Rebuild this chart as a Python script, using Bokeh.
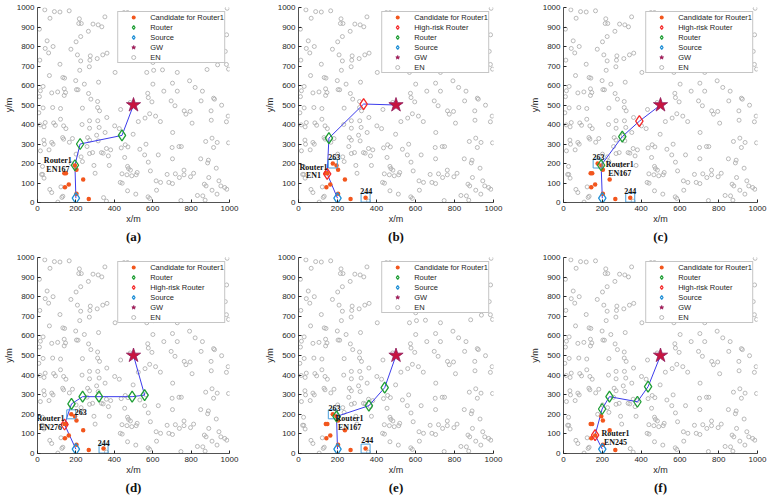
from bokeh.plotting import figure
from bokeh.layouts import row, column
from bokeh.models import Range1d, Legend, LegendItem, Title, FixedTicker
from bokeh.core.properties import value
from bokeh.embed import file_html
from bokeh.resources import INLINE

# ---------------- data ----------------
EN_PTS = [
    (38, 988), (88, 979), (117, 977), (165, 983), (65, 945), (218, 942), (351, 952), (450, 974), (469, 974), (988, 996),
    (228, 918), (215, 918), (289, 915), (316, 911), (335, 901), (10, 889), (265, 878), (225, 851), (201, 824), (50, 829),
    (81, 800), (40, 790), (58, 767), (174, 786), (208, 757), (275, 752), (340, 757), (362, 766), (12, 730), (117, 709),
    (273, 730), (225, 726), (311, 738), (220, 678), (270, 696), (404, 667), (601, 718), (569, 667), (605, 678), (651, 680),
    (728, 667), (883, 682), (984, 708), (995, 684), (938, 706), (520, 830), (700, 900), (850, 760), (620, 940), (780, 880),
    (940, 800), (560, 780), (880, 920), (985, 860), (978, 775),
    (62, 651), (132, 641), (141, 638), (29, 595), (15, 573), (105, 567), (74, 562), (139, 583), (146, 564), (203, 579),
    (211, 578), (244, 607), (318, 617), (278, 530), (199, 625), (313, 518), (266, 559), (139, 549), (10, 543), (29, 485),
    (120, 482), (79, 487), (234, 484), (313, 487), (323, 470), (433, 477), (483, 513), (574, 560), (577, 538), (596, 516),
    (658, 571), (728, 571), (792, 624), (821, 590), (859, 571), (696, 521), (716, 496), (764, 470), (795, 467), (773, 453),
    (805, 407), (904, 470), (917, 535), (922, 530), (959, 499), (993, 443), (984, 414), (905, 422), (584, 455), (615, 443),
    (7, 460), (14, 398), (40, 410), (34, 388), (120, 427), (136, 393), (148, 379), (84, 408), (93, 396), (271, 419),
    (271, 381), (314, 419), (321, 385), (361, 436), (402, 393), (352, 359), (308, 345), (261, 333), (359, 277), (381, 270),
    (369, 239), (374, 190), (333, 256), (342, 253), (258, 287), (271, 320), (316, 316), (33, 320), (36, 299), (74, 308),
    (81, 299), (131, 333), (136, 325), (182, 328), (201, 248), (227, 234), (234, 210), (26, 185), (27, 144), (21, 144),
    (34, 125), (64, 67), (74, 51), (122, 80), (132, 32), (127, 26), (106, 2), (359, 7),
    (426, 379), (436, 280), (457, 296), (498, 350), (471, 285), (454, 231), (469, 185), (474, 174), (484, 166), (466, 142),
    (519, 154), (514, 142), (491, 137), (440, 147), (431, 103), (441, 99), (469, 60), (512, 43), (576, 29), (584, 21),
    (533, 273), (565, 299), (558, 244), (577, 207), (588, 162), (629, 244), (618, 111), (641, 103), (620, 63), (675, 144),
    (684, 103), (718, 147), (703, 97), (739, 128), (763, 142), (797, 132), (763, 166), (737, 287), (749, 287), (701, 282),
    (703, 224), (704, 359), (876, 313), (909, 330), (917, 282), (936, 308), (995, 306), (850, 224), (886, 203), (890, 217),
    (931, 176), (869, 94), (878, 85), (892, 128), (909, 63), (945, 111), (955, 85), (975, 77), (986, 68), (935, 43),
    (833, 36), (861, 34), (873, 12), (747, 10), (813, 150), (852, 521), (601, 607), (703, 612), (271, 251), (287, 256),
    (294, 190), (166, 309), (560, 433), (525, 415), (640, 415), (232, 400), (60, 270), (15, 265), (300, 150),
]
EN_X = [p[0] for p in EN_PTS]
EN_Y = [p[1] for p in EN_PTS]

CAND_X = [140, 148, 143, 163, 203, 195, 238, 203, 267]
CAND_Y = [150, 150, 78, 92, 168, 190, 118, 45, 18]

MARK_IDS = ["263", "244"]
MARK_X = [176, 344]
MARK_Y = [200, 25]

SOURCE_X = [200]
SOURCE_Y = [22]
GW_X = [500]
GW_Y = [500]

PANELS = {
    "a": dict(rx=[195, 222, 440], ry=[191, 300, 344], risk=[0, 0, 0], en="EN167",
              lab=(106, 217, 171), marks=False, mlab=None,
              legend=["cand", "router", "source", "gw", "en"]),
    "b": dict(rx=[147, 156, 334], ry=[147, 330, 505], risk=[1, 0, 1], en="EN1",
              lab=(77, 182, 136), marks=True, mlab=[(183, 233), (348, 60)],
              legend=["cand", "risk", "router", "source", "gw", "en"]),
    "c": dict(rx=[194, 303, 391], ry=[191, 338, 417], risk=[0, 0, 1], en="EN167",
              lab=(290, 194, 148), marks=True, mlab=[(180, 233), (344, 60)],
              legend=["cand", "risk", "router", "source", "gw", "en"]),
    "d": dict(rx=[141, 177, 235, 320, 493, 558], ry=[148, 253, 290, 290, 290, 298],
              risk=[1, 0, 0, 0, 0, 0], en="EN276",
              lab=(68, 179, 133), marks=True, mlab=[(225, 213), (345, 56)],
              legend=["cand", "router", "risk", "source", "gw", "en"]),
    "e": dict(rx=[195, 361, 442], ry=[189, 244, 336], risk=[0, 0, 0], en="EN167",
              lab=(262, 179, 133), marks=True, mlab=[(185, 232), (353, 67)],
              legend=["cand", "router", "source", "gw", "en"]),
    "f": dict(rx=[163, 199, 237, 381, 436], ry=[94, 227, 290, 264, 341],
              risk=[1, 0, 0, 0, 0], en="EN245",
              lab=(268, 100, 55), marks=False, mlab=None,
              legend=["cand", "router", "risk", "source", "gw", "en"]),
}

LEG_LABELS = {"cand": "Candidate for Router1", "risk": "High-risk Router", "router": "Router",
              "source": "Source", "gw": "GW", "en": "EN"}

# ---------------- styles ----------------
C_ORANGE = "#f2561d"
C_GREEN = "#1f9e35"
C_RED = "#f52a2a"
C_BLUE = "#1f8fd6"
C_STAR = "#c8143f"
C_LINE = "#3c3cec"
C_EN = "#a8a8a8"
C_AX = "#262626"
SANS = "Liberation Sans"
SERIF = "Liberation Serif"

LAYOUT = {
    "a": dict(w=255, h=250, l=35, r=26, t=7, b=48),
    "b": dict(w=255, h=250, l=43, r=17, t=7, b=48),
    "c": dict(w=260, h=250, l=53, r=13, t=7, b=48),
    "d": dict(w=255, h=252, l=35, r=26, t=7, b=49),
    "e": dict(w=255, h=252, l=43, r=17, t=7, b=49),
    "f": dict(w=260, h=252, l=53, r=13, t=7, b=49),
}


def make_panel(key):
    spec = PANELS[key]
    lay = LAYOUT[key]
    p = figure(width=lay["w"], height=lay["h"], x_range=Range1d(0, 1000), y_range=Range1d(0, 1000),
               output_backend="svg", toolbar_location=None,
               min_border_left=lay["l"], min_border_right=lay["r"],
               min_border_top=lay["t"], min_border_bottom=lay["b"],
               outline_line_color=None, background_fill_color="white", border_fill_color="white")
    p.xgrid.visible = False
    p.ygrid.visible = False
    p.xaxis.ticker = FixedTicker(ticks=[0, 200, 400, 600, 800, 1000])
    p.yaxis.ticker = FixedTicker(ticks=list(range(0, 1001, 100)))
    p.xaxis.axis_label = "x/m"
    p.yaxis.axis_label = "y/m"
    for ax in (p.xaxis[0], p.yaxis[0]):
        ax.major_tick_in = 3
        ax.major_tick_out = 0
        ax.minor_tick_line_color = None
        ax.axis_line_color = C_AX
        ax.axis_line_width = 0.8
        ax.major_tick_line_color = C_AX
        ax.major_label_text_font = SANS
        ax.major_label_text_font_size = "8px"
        ax.major_label_text_color = C_AX
        ax.axis_label_text_font = SANS
        ax.axis_label_text_font_size = "9px"
        ax.axis_label_text_font_style = "normal"
        ax.axis_label_text_color = C_AX
        ax.major_label_standoff = 3
        ax.axis_label_standoff = 0

    ex, ey = list(EN_X), list(EN_Y)
    if not spec["marks"]:
        ex += MARK_X
        ey += MARK_Y
    r_en = p.scatter(ex, ey, marker="circle", size=4, fill_color=None, line_color=C_EN, line_width=0.8)

    route_x = SOURCE_X + spec["rx"] + GW_X
    route_y = SOURCE_Y + spec["ry"] + GW_Y
    p.line(route_x, route_y, line_color=C_LINE, line_width=1)

    cx, cy = list(CAND_X), list(CAND_Y)
    if spec["marks"]:
        cx += MARK_X
        cy += MARK_Y
    r_cand = p.scatter(cx, cy, marker="circle", size=4.5, fill_color=C_ORANGE, line_color=None)

    if spec["marks"]:
        p.scatter(MARK_X, MARK_Y, marker="square", size=9, fill_color=None, line_color="#4a9fdc", line_width=1)
        p.text([q[0] for q in spec["mlab"]], [q[1] for q in spec["mlab"]], text=MARK_IDS,
               text_font=value(SERIF), text_font_style="bold", text_font_size="8px",
               text_align="center", text_baseline="middle", text_color="#111111")

    gx = [x for x, k in zip(spec["rx"], spec["risk"]) if k == 0]
    gy = [y for y, k in zip(spec["ry"], spec["risk"]) if k == 0]
    rx = [x for x, k in zip(spec["rx"], spec["risk"]) if k == 1]
    ry = [y for y, k in zip(spec["ry"], spec["risk"]) if k == 1]
    r_router = p.scatter(gx, gy, marker="diamond", size=11, fill_color=None, line_color=C_GREEN, line_width=1.3)
    r_risk = p.scatter(rx, ry, marker="diamond", size=11, fill_color=None, line_color=C_RED, line_width=1.3)
    r_src = p.scatter(SOURCE_X, SOURCE_Y, marker="diamond", size=11, fill_color=None, line_color=C_BLUE, line_width=1.3)
    r_gw = p.scatter(GW_X, GW_Y, marker="star", size=15, fill_color=C_STAR, line_color="#8e1a5c", line_width=0.8)

    lx, ly1, ly2 = spec["lab"]
    p.text([lx, lx], [ly1, ly2], text=["Router1", spec["en"]],
           text_font=value(SERIF), text_font_style="bold", text_font_size="8px",
           text_align="center", text_baseline="middle", text_color="#111111")

    rmap = {"cand": r_cand, "risk": r_risk, "router": r_router, "source": r_src, "gw": r_gw, "en": r_en}
    items = [LegendItem(label=LEG_LABELS[k], renderers=[rmap[k]]) for k in spec["legend"]]
    leg = Legend(items=items, location="top_right", padding=0, spacing=0, margin=4,
                 glyph_height=10, glyph_width=30, label_height=10, label_standoff=2,
                 label_text_font=SANS, label_text_font_size="7.5px", label_text_color=C_AX,
                 label_text_baseline="middle",
                 border_line_color="#8c8c8c", border_line_width=0.8,
                 background_fill_color="white", background_fill_alpha=1)
    p.add_layout(leg)

    cap = Title(text="(%s)" % key, align="center", text_font=SERIF, text_font_style="bold",
                text_font_size="13px", text_color="#111111", standoff=0)
    p.add_layout(cap, "below")
    return p


figs = {k: make_panel(k) for k in "abcdef"}
layout = column(row(figs["a"], figs["b"], figs["c"]), row(figs["d"], figs["e"], figs["f"]))

with open("out.html", "w") as f:
    f.write(file_html(layout, INLINE))
